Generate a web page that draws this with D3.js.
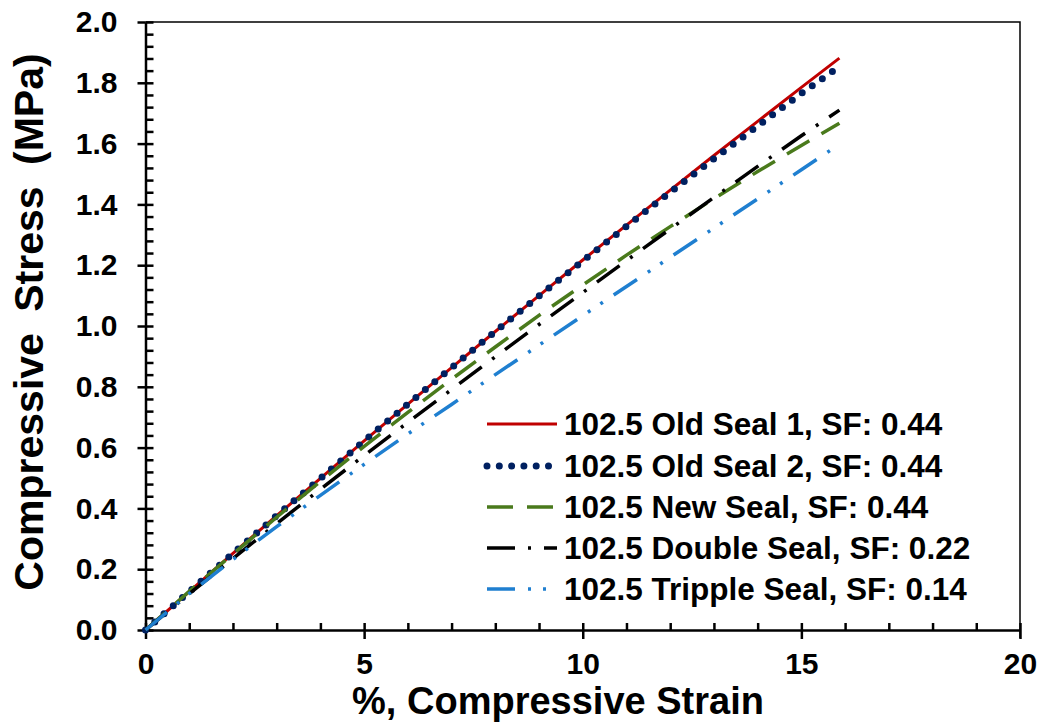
<!DOCTYPE html>
<html>
<head>
  <meta charset="utf-8">
  <title>Compressive Stress vs Strain</title>
  <style>
    body { margin: 0; background: #fff; }
    svg text { font-family: "Liberation Sans", Arial, sans-serif; font-weight: bold; fill: #000; }
    .axis path, .axis line { stroke: #000; stroke-width: 2.5px; }
    .series { fill: none; }
  </style>
</head>
<body>
  <script src="https://cdn.jsdelivr.net/npm/d3@7/dist/d3.min.js"></script>
  <script>
    // values
    const strain     = [0, 1, 2, 3, 4, 5, 6, 7, 8, 9, 10, 11, 12, 13, 14, 15, 15.87];
    const oldSeal1   = [0, 0.126, 0.252, 0.376, 0.499, 0.622, 0.743, 0.863, 0.982, 1.100, 1.217, 1.332, 1.447, 1.561, 1.673, 1.785, 1.881];
    const oldSeal2   = [0, 0.126, 0.252, 0.376, 0.499, 0.622, 0.743, 0.863, 0.982, 1.099, 1.214, 1.328, 1.440, 1.550, 1.658, 1.765, 1.853];
    const newSeal    = [0, 0.127, 0.250, 0.371, 0.489, 0.604, 0.716, 0.825, 0.931, 1.035, 1.135, 1.233, 1.327, 1.419, 1.508, 1.594, 1.667];
    const doubleSeal = [0, 0.119, 0.235, 0.350, 0.463, 0.574, 0.683, 0.791, 0.899, 1.005, 1.110, 1.215, 1.319, 1.423, 1.525, 1.626, 1.710];
    const tripleSeal = [0, 0.120, 0.232, 0.340, 0.443, 0.545, 0.645, 0.742, 0.840, 0.937, 1.034, 1.130, 1.226, 1.322, 1.418, 1.514, 1.598];

    const seriesNames = ["102.5 Old Seal 1, SF: 0.44", "102.5 Old Seal 2, SF: 0.44", "102.5 New Seal, SF: 0.44",
                         "102.5 Double Seal, SF: 0.22", "102.5 Tripple Seal, SF: 0.14"];
    const xTicks = [0, 5, 10, 15, 20];
    const yTicks = [0, 0.2, 0.4, 0.6, 0.8, 1.0, 1.2, 1.4, 1.6, 1.8, 2.0];

    const series = [
      {name: seriesNames[0], values: oldSeal1,   color: "#c00000", width: 3,   dash: null,               cap: "butt"},
      {name: seriesNames[1], values: oldSeal2,   color: "#002060", width: 7,   dash: "0 12.3",           cap: "round"},
      {name: seriesNames[2], values: newSeal,    color: "#4a7a1c", width: 3.5, dash: "26 14",            cap: "butt"},
      {name: seriesNames[3], values: doubleSeal, color: "#000000", width: 3.5, dash: "28 13 3 13",       cap: "butt"},
      {name: seriesNames[4], values: tripleSeal, color: "#1f7fd0", width: 3.5, dash: "28 13 3 12 3 13",  cap: "butt"}
    ];

    const W = 1044, H = 728;
    const plotL = 145.5, plotR = 1020, plotT = 22, plotB = 630;

    const x = d3.scaleLinear().domain([0, 20]).range([plotL, plotR]);
    const y = d3.scaleLinear().domain([0, 2]).range([plotB, plotT]);

    const svg = d3.select("body").append("svg")
        .attr("width", W)
        .attr("height", H);

    // plot box (top and right)
    svg.append("path")
       .attr("d", "M" + plotL + "," + plotT + "H" + plotR + "V" + (plotB + 8))
       .attr("fill", "none")
       .attr("stroke", "#000")
       .attr("stroke-width", 1.5);

    // minor ticks, inside
    svg.append("g")
       .attr("class", "axis")
       .attr("transform", "translate(" + plotL + ",0)")
       .call(d3.axisRight(y).tickValues(d3.range(0, 2.001, 0.04)).tickSize(8).tickFormat(""))
       .call(g => g.select(".domain").remove());
    svg.append("g")
       .attr("class", "axis")
       .attr("transform", "translate(0," + plotB + ")")
       .call(d3.axisTop(x).tickValues(d3.range(0, 20.001, 1)).tickSize(7).tickFormat(""))
       .call(g => g.select(".domain").remove());

    // major axes
    svg.append("g")
       .attr("class", "axis")
       .attr("transform", "translate(" + plotL + ",0)")
       .call(d3.axisLeft(y).tickValues(yTicks).tickSize(8).tickSizeOuter(0).tickPadding(20).tickFormat(d3.format(".1f")))
       .call(g => g.selectAll("text").attr("font-size", "30px"));

    svg.append("g")
       .attr("class", "axis")
       .attr("transform", "translate(0," + plotB + ")")
       .call(d3.axisBottom(x).tickValues(xTicks).tickSize(9).tickSizeOuter(0).tickPadding(14))
       .call(g => g.selectAll("text").attr("font-size", "30px"));

    // lines
    const line = d3.line()
        .x((d, i) => x(strain[i]))
        .y(d => y(d));

    series.forEach(s => {
      svg.append("path")
         .attr("class", "series")
         .attr("d", line(s.values))
         .attr("stroke", s.color)
         .attr("stroke-width", s.width)
         .attr("stroke-linecap", s.cap)
         .attr("stroke-dasharray", s.dash);
    });

    // legend
    const legendY = [424, 466, 507, 548, 589];
    const lg = svg.append("g");
    series.forEach((s, i) => {
      lg.append("line")
        .attr("x1", 487).attr("x2", 557)
        .attr("y1", legendY[i]).attr("y2", legendY[i])
        .attr("stroke", s.color)
        .attr("stroke-width", s.width)
        .attr("stroke-linecap", s.cap)
        .attr("stroke-dasharray", s.dash);
      lg.append("text")
        .attr("x", 564)
        .attr("y", legendY[i])
        .attr("dy", "0.36em")
        .attr("font-size", "31.5px")
        .text(s.name);
    });

    // axis titles
    svg.append("text")
       .attr("x", 558)
       .attr("y", 714)
       .attr("text-anchor", "middle")
       .attr("font-size", "38px")
       .text("%, Compressive Strain");

    svg.append("text")
       .attr("transform", "translate(43,322) rotate(-90)")
       .attr("text-anchor", "middle")
       .attr("font-size", "41px")
       .attr("word-spacing", "10px")
       .text("Compressive Stress (MPa)");
  </script>
</body>
</html>
